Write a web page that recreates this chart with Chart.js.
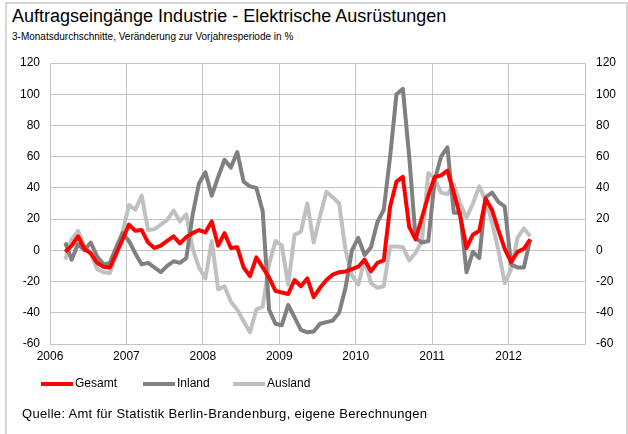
<!DOCTYPE html>
<html>
<head>
<meta charset="utf-8">
<script src="https://cdn.jsdelivr.net/npm/chart.js@4.4.0/dist/chart.umd.min.js"></script>
<style>
body { margin: 0; background: #fff; font-family: "Liberation Sans", Arial, sans-serif; color: #000; }
#wrap { position: relative; width: 628px; height: 434px; overflow: hidden; }
#frame { position: absolute; left: 5px; top: 2px; width: 619px; height: 440px; border: 2px solid #d6d6d6; }
#title { position: absolute; left: 12px; top: 6px; font-size: 18px; white-space: nowrap; }
#subtitle { position: absolute; left: 12px; top: 31px; font-size: 10px; white-space: nowrap; }
#chart { position: absolute; left: 0; top: 0; }
.leg { position: absolute; top: 376px; font-size: 12px; white-space: nowrap; }
.leg i { display: inline-block; width: 32px; height: 4px; vertical-align: middle; margin-right: 2px; }
#source { position: absolute; left: 22px; top: 406px; font-size: 13px; letter-spacing: 0.3px; white-space: nowrap; }
</style>
</head>
<body>
<div id="wrap">
  <div id="frame"></div>
  <div id="title">Auftragseingänge Industrie - Elektrische Ausrüstungen</div>
  <div id="subtitle">3-Monatsdurchschnitte, Veränderung zur Vorjahresperiode in %</div>
  <canvas id="chart" width="628" height="434"></canvas>
  <div class="leg" style="left:41px"><i style="background:#ff0000"></i>Gesamt</div>
  <div class="leg" style="left:143px"><i style="background:#808080"></i>Inland</div>
  <div class="leg" style="left:233px"><i style="background:#c0c0c0"></i>Ausland</div>
  <div id="source">Quelle: Amt für Statistik Berlin-Brandenburg, eigene Berechnungen</div>
</div>
<script>
// Monate März 2006 bis April 2012
const monate = [];
for (let y = 2006; y <= 2012; y++) {
    for (let m = 1; m <= 12; m++) {
        if ((y === 2006 && m < 3) || (y === 2012 && m > 4)) continue;
        monate.push(y + '-' + String(m).padStart(2, '0'));
    }
}

const gesamt = [
    -1, 3, 9, 1, -2, -8, -10.5, -11, -2, 7,
    16.5, 12.5, 13, 5, 1.5, 3, 6, 9, 4.5, 8.5, 11, 13,
    11.5, 18.5, 3, 11, 1.5, 2, -11, -16.5, -4.5, -11, -17.5, -26,
    -27, -28, -19, -23, -18, -30, -24, -19, -15.5, -14, -13.5, -12,
    -10.5, -6, -13.5, -8, -6.5, 28, 44, 47, 15, 7, 21, 35,
    47, 48, 51, 37, 22, 1.5, 10, 12.5, 33, 26, 13, 1,
    -7.5, -1, 1, 7
];

const inland = [
    5, -6, 4, 0, 5, -4, -9, -8, 2, 11,
    6, -2, -9, -8, -11, -14, -10, -7, -8, -5, 23, 43,
    50, 35, 47, 58, 53, 63, 44, 41, 40, 25, -38, -47,
    -48, -35, -43, -51, -52.5, -52, -47, -46, -45, -40, -24, 0,
    8, -3, 2, 18, 26, 60, 100, 103.5, 60, 8, 5, 6,
    45, 60, 66, 24, 24, -14, -1, -5, 34, 37, 31, 28,
    -9, -11, -11, 7
];

const ausland = [
    -6, 7, 12.5, 2.5, -2, -12, -14, -14.5, -3, 12,
    29, 26, 35, 13, 13.5, 16.5, 19.5, 25.5, 18.5, 23, 1, -11,
    -18, 6, -25, -23, -33, -38, -45.5, -52.5, -38, -36, -9, 6,
    3, -22, 10, 12, 30, 5, 22, 37.5, 34, 30, 0, -16,
    -22, -6, -21, -24, -23, 2.5, 2.5, 2, -6.5, -1.5, 6, 49.5,
    46, 37, 36, 42, 30, 21, 30, 41, 32, 18, 0, -21,
    -12, 8, 14, 9
];

const jahre = ['2006', '2007', '2008', '2009', '2010', '2011', '2012'];

// Monat -> Position auf der Jahresachse
function punkte(werte) {
    return werte.map((v, i) => {
        const [y, m] = monate[i].split('-').map(Number);
        return { x: y + (m - 1 + 0.4) / 12, y: v };
    });
}

const gridColor = '#c4c4c4';
const tickFont = { family: '"Liberation Sans", Arial, sans-serif', size: 12 };

const ctx = document.getElementById('chart').getContext('2d');

new Chart(ctx, {
    type: 'line',
    data: {
        datasets: [
            { label: 'Gesamt', data: punkte(gesamt), borderColor: '#ff0000' },
            { label: 'Inland', data: punkte(inland), borderColor: '#808080' },
            { label: 'Ausland', data: punkte(ausland), borderColor: '#c0c0c0' }
        ]
    },
    options: {
        responsive: false,
        animation: false,
        datasets: {
            line: { borderWidth: 4, pointRadius: 0, tension: 0, borderJoinStyle: 'round', fill: false }
        },
        layout: { padding: { top: 63, left: 0, right: 0, bottom: 0 } },
        plugins: { legend: { display: false }, tooltip: { enabled: false } },
        scales: {
            x: {
                type: 'linear',
                min: 2006,
                max: 2013,
                afterFit: s => { s.height = 90; },
                grid: { color: gridColor, drawTicks: false },
                border: { color: gridColor },
                ticks: {
                    stepSize: 1,
                    padding: 5,
                    maxRotation: 0,
                    autoSkip: false,
                    color: '#000',
                    font: tickFont,
                    callback: (v, i) => jahre[i] || ''
                }
            },
            y: {
                position: 'left',
                min: -60,
                max: 120,
                afterFit: s => { s.width = 50; },
                grid: { color: gridColor, drawTicks: false },
                border: { color: gridColor },
                ticks: { stepSize: 20, padding: 10, color: '#000', font: tickFont }
            },
            y2: {
                position: 'right',
                min: -60,
                max: 120,
                afterFit: s => { s.width = 43; },
                grid: { display: false, drawTicks: false },
                border: { color: gridColor },
                ticks: { stepSize: 20, padding: 11, color: '#000', font: tickFont }
            }
        }
    }
});
</script>
</body>
</html>
